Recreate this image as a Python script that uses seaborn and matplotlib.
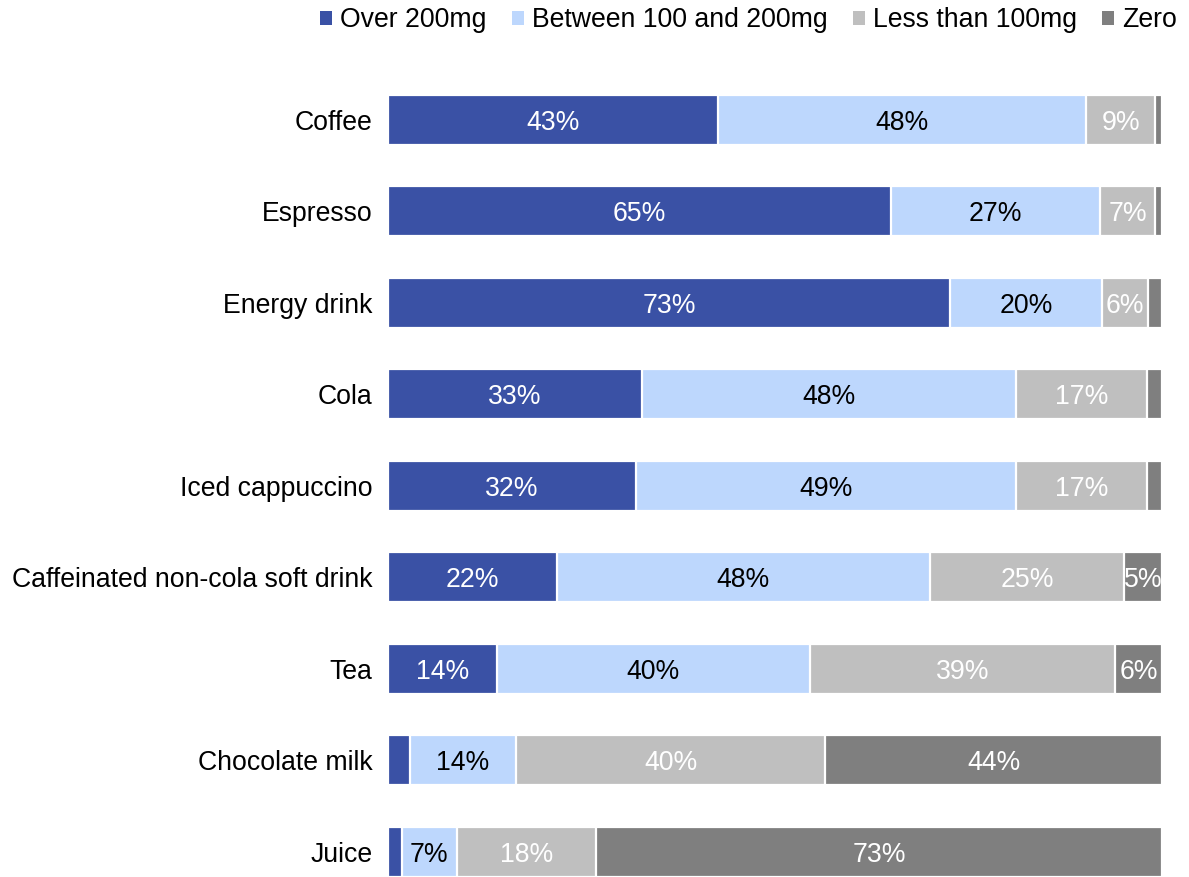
import matplotlib
matplotlib.use("Agg")
import matplotlib.pyplot as plt
import seaborn as sns
import pandas as pd
import numpy as np
from matplotlib.patches import Patch

drinks = ["Coffee", "Espresso", "Energy drink", "Cola", "Iced cappuccino",
          "Caffeinated non-cola soft drink", "Tea", "Chocolate milk", "Juice"]
series = ["Over 200mg", "Between 100 and 200mg", "Less than 100mg", "Zero"]
over_200 = [42.6, 65.0, 72.6, 32.8, 32.0, 21.8, 14.1, 2.8, 1.8]
between_100_200 = [47.6, 27.0, 19.7, 48.3, 49.2, 48.2, 40.4, 13.7, 7.1]
less_100 = [8.9, 7.1, 5.9, 17.0, 16.9, 25.1, 39.4, 40.0, 18.0]
zero = [0.9, 0.9, 1.8, 1.9, 1.9, 4.9, 6.1, 43.5, 73.1]

colors = ["#3A51A5", "#BDD7FD", "#BFBFBF", "#7F7F7F"]
text_colors = ["white", "black", "white", "white"]

sns.set_theme(style="white")
plt.rcParams["font.family"] = ["Liberation Sans", "DejaVu Sans"]

fig = plt.figure(figsize=(11.89, 8.77), dpi=100)
ax = fig.add_axes([388 / 1189, 0.0, (1162 - 388) / 1189, 1 - 74 / 877])

vals = np.array([over_200, between_100_200, less_100, zero])
cum = np.cumsum(vals, axis=0)
df = pd.DataFrame({"drink": drinks})
for i in range(3, -1, -1):
    df["v"] = cum[i]
    sns.barplot(data=df, x="v", y="drink", orient="h", color=colors[i],
                saturation=1, width=0.55, edgecolor="white", linewidth=1.6,
                ax=ax, order=drinks)

for i in range(4):
    for j, d in enumerate(drinks):
        v = vals[i][j]
        if v >= 3:
            left = cum[i][j] - v
            ax.text(left + v / 2, j, f"{v:.0f}%", ha="center", va="center_baseline",
                    color=text_colors[i], fontsize=19.2)

ax.set_xlim(0, 100)
ax.set_ylim(8.276, -0.5)
ax.set_xlabel("")
ax.set_ylabel("")
ax.set_xticks([])
ax.tick_params(axis="y", length=0, pad=11, labelsize=19.2, labelcolor="black")
for s in ax.spines.values():
    s.set_visible(False)

handles = [Patch(facecolor=c, edgecolor="none") for c in colors]
fig.legend(handles, series, loc="upper right", bbox_to_anchor=(1201 / 1189, 1.019),
           ncol=4, frameon=False, fontsize=19.2, handlelength=0.45, handleheight=0.45,
           handletextpad=0.3, columnspacing=0.95, labelcolor="black")

fig.savefig("out.png", dpi=100)
